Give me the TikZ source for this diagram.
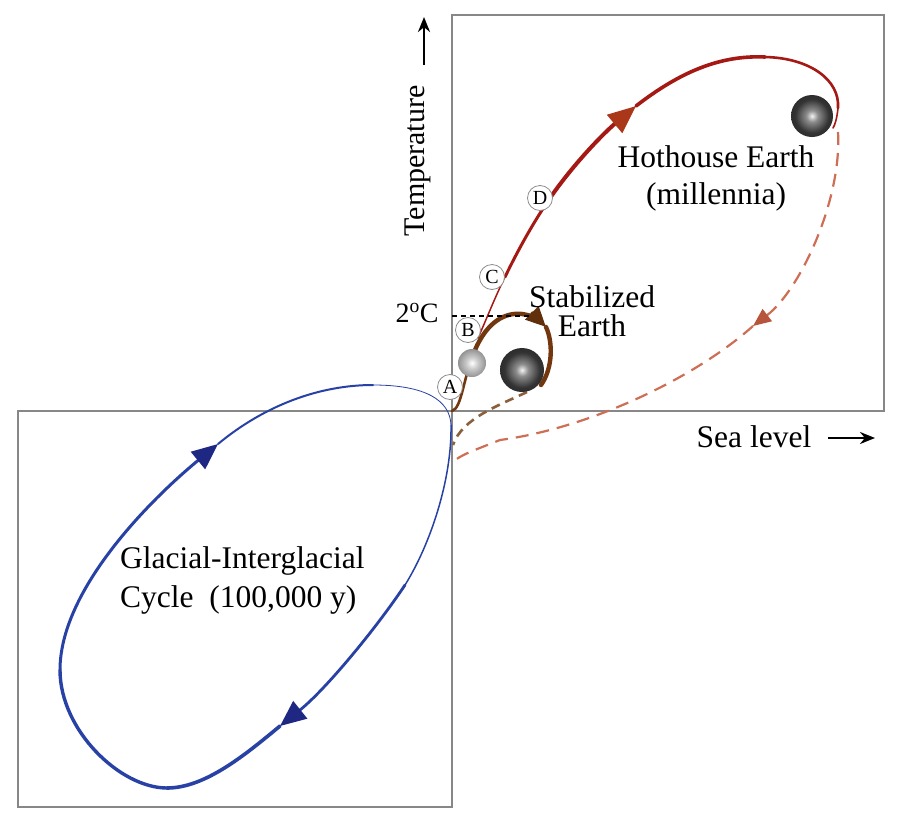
\documentclass[tikz,border=0pt]{standalone}
\usepackage{fontspec}
\setmainfont{Liberation Serif}
\usetikzlibrary{arrows.meta}
\definecolor{boxgray}{RGB}{135,135,135}
\definecolor{gblue}{RGB}{40,65,165}
\definecolor{navy}{RGB}{30,40,130}
\definecolor{sbrown}{RGB}{115,55,15}
\definecolor{dbrown}{RGB}{140,95,60}
\definecolor{hred}{RGB}{165,25,20}
\definecolor{harrow}{RGB}{170,55,25}
\definecolor{dred}{RGB}{205,110,85}
\pgfdeclareradialshading{darkball}{\pgfpointorigin}{color(0bp)=(black!5); color(7bp)=(black!45); color(20bp)=(black!80); color(50bp)=(black!94)}
\pgfdeclareradialshading{lightball}{\pgfpointorigin}{color(0bp)=(white); color(10bp)=(black!20); color(30bp)=(black!50); color(50bp)=(black!68)}
\begin{document}
\begin{tikzpicture}[x=1pt,y=-1pt,
  box/.style={draw=boxgray, line width=1.8pt},
  lbl/.style={font=\fontsize{31.5}{37}\selectfont, inner sep=0pt},
  circlbl/.style={circle, draw=black!45, fill=white, line width=0.8pt, minimum size=25pt, inner sep=0pt, font=\fontsize{20}{20}\selectfont},
  bl/.style={draw=gblue, line cap=round},
  btip/.style={-{Triangle[length=26pt,width=22pt,color=navy]}},
  rl/.style={draw=hred, line cap=round},
  br/.style={draw=sbrown, line cap=round},
  axarrow/.style={-{Stealth[length=15pt,width=12pt]}, line width=2.6pt, black}
]
\useasboundingbox (0,0) rectangle (899,817);
\fill[white] (0,0) rectangle (899,817);

% boxes
\draw[box] (452,15) rectangle (884,411);
\draw[box] (18,411) rectangle (452,807);

% coordinates
\coordinate (O) at (452,411);
\coordinate (g1) at (451,425);
\coordinate (g2) at (405,585);
\coordinate (g3) at (280,726);
\coordinate (g4) at (167,788);
\coordinate (g5) at (60,670);
\coordinate (g6) at (218,444);
\coordinate (g7) at (373,385);

% blue glacial-interglacial loop
\draw[bl, line width=0.8pt] (g7) .. controls (425,385) and (450,400) .. (g1);
\draw[bl, line width=1.5pt] (g1) .. controls (452,480) and (430,545) .. (g2);
\draw[bl, line width=2.8pt, btip] (g2) .. controls (375,630) and (325,690) .. (g3);
\draw[bl, line width=3.6pt] (g3) .. controls (245,755) and (205,788) .. (g4);
\draw[bl, line width=3.4pt] (g4) .. controls (120,788) and (60,730) .. (g5);
\draw[bl, line width=3pt, btip] (g5) .. controls (60,590) and (150,500) .. (g6);
\draw[bl, line width=2pt] (g6) .. controls (265,405) and (320,385) .. (g7);

% red dashed return path
\coordinate (d0) at (838,132);
\coordinate (d1) at (753,326);
\coordinate (d2) at (500,440);
\coordinate (d3) at (453,462);
\draw[dred, line width=2.2pt, dash pattern=on 13pt off 8pt, -{Triangle[length=18pt,width=15pt,color=harrow!85]}]
  (d0) .. controls (842,200) and (800,290) .. (d1);
\draw[dred, line width=2.2pt, dash pattern=on 13pt off 8pt]
  (d1) .. controls (695,378) and (590,428) .. (d2) .. controls (475,450) and (460,455) .. (d3);

% brown dashed
\coordinate (e0) at (527,392);
\coordinate (e1) at (453,445);
\draw[dbrown, line width=2.6pt, dash pattern=on 9pt off 6pt] (e0) .. controls (500,405) and (462,418) .. (e1);

% red hothouse trajectory
\coordinate (r0) at (478,338);
\coordinate (r1) at (505,277);
\coordinate (r2) at (550,198);
\coordinate (r3) at (636,106);
\coordinate (r4) at (765,57);
\coordinate (r5) at (838,108);
\coordinate (r6) at (833,128);
\draw[rl, line width=1.5pt] (r0) .. controls (487,318) and (495,297) .. (r1);
\draw[rl, line width=3pt] (r1) .. controls (518,250) and (533,223) .. (r2);
\draw[rl, line width=4pt, -{Triangle[length=28pt,width=23pt,color=harrow]}] (r2) .. controls (575,162) and (605,132) .. (r3);
\draw[rl, line width=3.6pt] (r3) .. controls (680,72) and (720,55) .. (r4);
\draw[rl, line width=2.6pt] (r4) .. controls (810,58) and (840,80) .. (r5);
\draw[rl, line width=1.6pt] (r5) .. controls (837,118) and (835,125) .. (r6);

% brown stabilized trajectory
\coordinate (b1) at (475,350);
\coordinate (b2) at (522,314);
\coordinate (b3) at (546,327);
\coordinate (b4) at (541,385);
\draw[br, line width=2.6pt] (O) .. controls (462,408) and (463,378) .. (b1);
\draw[br, line width=4.4pt] (b1) .. controls (487,322) and (505,312) .. (b2);
\draw[br, line width=4.4pt, -{Triangle[length=20pt,width=18pt,color=sbrown!85!black]}] (b2) .. controls (530,315) and (538,319) .. (b3);
\draw[br, line width=4.4pt] (b3) .. controls (553,342) and (553,368) .. (b4);

% 2 degree line
\coordinate (t0) at (530,316);
\draw[black, line width=1.8pt, dash pattern=on 5pt off 4pt] (452,316) -- (t0);

% spheres
\shade[shading=lightball] (472,363) circle (14);
\shade[shading=darkball] (522,370) circle (22);
\shade[shading=darkball] (812,116) circle (21);

% circled letters
\node[circlbl] (A) at (450,387) {A};
\node[circlbl] (B) at (468,330) {B};
\node[circlbl] (C) at (492,277) {C};
\node[circlbl] (D) at (540,198) {D};

% labels
\node[lbl, font=\fontsize{28}{30}\selectfont, anchor=base] (twoC) at (417,322) {2\textsuperscript{o}C};
\node[lbl, align=center] (hot) at (716,178) {Hothouse Earth\\(millennia)};
\node[lbl, align=center, font=\fontsize{31.5}{29}\selectfont] (stab) at (592,311) {Stabilized\\Earth};
\node[lbl, align=left, anchor=west, font=\fontsize{31.5}{39}\selectfont] (glac) at (120,580) {Glacial-Interglacial\\Cycle\ \ (100,000 y)};
\node[lbl, anchor=base] (sea) at (754,447) {Sea level};
\node[lbl, rotate=90, font=\fontsize{30}{34}\selectfont] (temp) at (418,161) {Temperature};

% axis arrows
\coordinate (sa0) at (828,438);
\coordinate (sa1) at (875,438);
\draw[axarrow] (sa0) -- (sa1);
\coordinate (ta0) at (424,65);
\coordinate (ta1) at (424,17);
\draw[axarrow] (ta0) -- (ta1);
\end{tikzpicture}
\end{document}
